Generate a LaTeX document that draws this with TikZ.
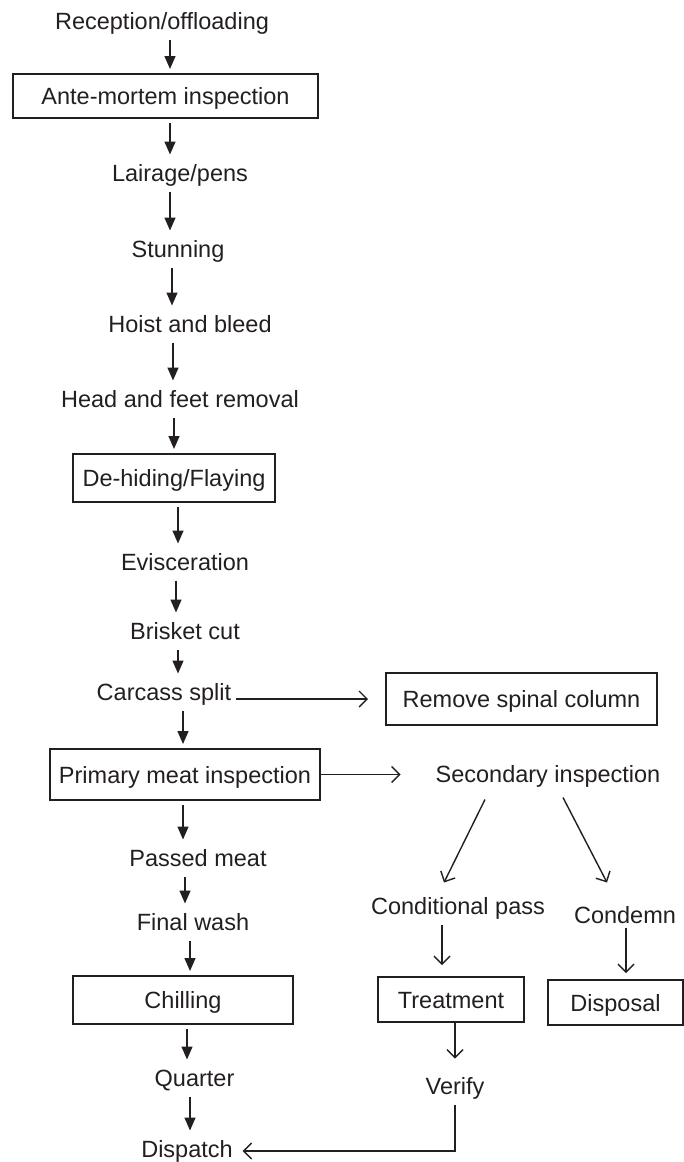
\documentclass[tikz,border=0pt]{standalone}
\usepackage{fontspec}
\setmainfont{Liberation Sans}
\usetikzlibrary{arrows.meta, calc}
\definecolor{ink}{RGB}{35,31,32}

\begin{document}
\begin{tikzpicture}[x=1pt, y=-1pt,
  every node/.style={font=\fontsize{23.5}{28}\selectfont, text=ink},
  stage/.style={inner sep=3pt, outer sep=2pt, text height=22pt, text depth=5pt},
  stepbox/.style={stage, draw=ink, line width=2.2pt, outer xsep=0pt, outer ysep=5pt},
  flow/.style={ink, -{Triangle[length=13pt,width=11pt]}, line width=1.4pt},
  side/.style={ink, -{Straight Barb[length=8pt,width=16pt]}, line width=1.4pt}]
  \useasboundingbox (0,0) rectangle (684,1162);

  % main line
  \node[stage] (rec) at (162,21) {Reception/offloading};
  \node[stepbox, minimum width=305pt, minimum height=44pt] (ante) at (165.5,96) {Ante-mortem inspection};
  \node[stage] (lair) at (180,173) {Lairage/pens};
  \node[stage] (stun) at (178,249) {Stunning};
  \node[stage] (hoist) at (190,324) {Hoist and bleed};
  \node[stage] (head) at (180,399) {Head and feet removal};
  \node[stepbox, minimum width=202pt, minimum height=48pt] (hide) at (174,478) {De-hiding/Flaying};
  \node[stage] (evis) at (185,562) {Evisceration};
  \node[stage] (brisket) at (185,631) {Brisket cut};
  \node[stage] (split) at (164,692) {Carcass split};
  \node[stepbox, minimum width=270pt, minimum height=51pt] (primary) at (185,774.5) {Primary meat inspection};
  \node[stage] (passed) at (198,858) {Passed meat};
  \node[stage] (wash) at (193,922) {Final wash};
  \node[stepbox, minimum width=220pt, minimum height=48pt] (chill) at (183,1000) {Chilling};
  \node[stage] (quarter) at (194.5,1078) {Quarter};
  \node[stage] (dispatch) at (187,1149) {Dispatch};

  % side branches
  \node[stepbox, minimum width=271pt, minimum height=52pt] (spine) at (521.5,699) {Remove spinal column};
  \node[stage] (second) at (548,774) {Secondary inspection};
  \node[stage] (cond) at (458,906) {Conditional pass};
  \node[stage] (condemn) at (625,915) {Condemn};
  \node[stepbox, minimum width=146pt, minimum height=45pt] (treat) at (451,999.5) {Treatment};
  \node[stepbox, minimum width=135pt, minimum height=45pt] (disposal) at (615.5,1002.5) {Disposal};
  \node[stage] (verify) at (455,1086) {Verify};

  \foreach \a/\b/\dx in {rec/ante/8, ante/lair/4.5, lair/stun/-10, stun/hoist/-6,
      hoist/head/-17, head/hide/-6, hide/evis/4, evis/brisket/-9, brisket/split/-7,
      split/primary/19, primary/passed/-2, passed/wash/-13, wash/chill/-3,
      chill/quarter/4, quarter/dispatch/-4.5}
    \draw[flow] ([xshift=\dx pt]\a.south) -- ([xshift=\dx pt]\a.south |- \b.north);

  \draw[side, shorten >=18pt] (split.east |- spine.west) -- (spine.west);
  \draw[side, shorten >=30pt] (primary.east) -- (primary.east -| second.west);
  \draw[side] ([xshift=-63pt,yshift=-7pt]second.south) -- ([xshift=-14pt,yshift=5pt]cond.north);
  \draw[side] ([xshift=15pt,yshift=-5pt]second.south) -- ([xshift=-18pt,yshift=14pt]condemn.north);
  \draw[side, shorten >=7pt] ([xshift=-16pt]cond.south) -- ([xshift=-16pt]cond.south |- treat.north);
  \draw[side, shorten <=-6pt, shorten >=2pt] ([xshift=1pt]condemn.south) -- ([xshift=1pt]condemn.south |- disposal.north);
  \draw[side, shorten <=-5pt, shorten >=9pt] ([xshift=4pt]treat.south) -- ([xshift=4pt]treat.south |- verify.north);
  \draw[side, shorten >=5pt] (verify.south) |- ([yshift=-2pt]dispatch.east);
\end{tikzpicture}
\end{document}
